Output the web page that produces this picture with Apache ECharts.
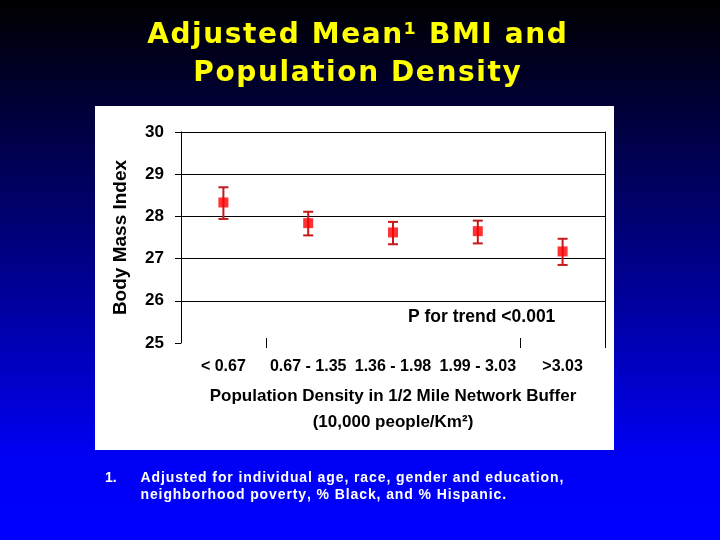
<!DOCTYPE html>
<html>
<head>
<meta charset="utf-8">
<script src="https://cdn.jsdelivr.net/npm/echarts@6/dist/echarts.min.js"></script>
<style>
  html, body { margin: 0; padding: 0; background: #000; }
  #chart { width: 720px; height: 540px; }
</style>
</head>
<body>
<div id="chart"></div>
<script>
// data
var categories = ['< 0.67', '0.67 - 1.35', '1.36 - 1.98', '1.99 - 3.03', '>3.03'];
var bmiMean = [28.33, 27.84, 27.62, 27.65, 27.17];
var ciLow = [27.94, 27.55, 27.34, 27.36, 26.85];
var ciHigh = [28.69, 28.11, 27.87, 27.90, 27.47];
var yMin = 25, yMax = 30, yStep = 1;

var titleLines = ['Adjusted Mean\u00b9 BMI and', 'Population Density'];
var noteLines = ['Adjusted for individual age, race, gender and education,',
                 'neighborhood poverty, % Black, and % Hispanic.'];

// wrap each character in a rich token so it can get letter spacing
function spaced(str, key) {
    return str.split('').map(function (c) { return '{' + key + '|' + c + '}'; }).join('');
}

var myChart = echarts.init(document.getElementById('chart'));

var titleRich = {
    t: { fontFamily: 'DejaVu Sans', fontWeight: 'bold', fontSize: 28, fill: '#FFFF00', padding: [0, 0.8, 0, 0.8] }
};
var noteRich = {
    n: { fontFamily: 'Liberation Sans', fontWeight: 'bold', fontSize: 14, fill: '#FFFFFF', padding: [0, 0.45, 0, 0.45] }
};

var option = {
    animation: false,
    graphic: [
        {
            type: 'rect', z: -20, silent: true,
            shape: { x: 0, y: 0, width: 720, height: 540 },
            style: {
                fill: new echarts.graphic.LinearGradient(0, 0, 0, 1, [
                    { offset: 0, color: '#000000' },
                    { offset: 0.5, color: '#00008C' },
                    { offset: 0.85, color: '#0000F5' },
                    { offset: 1, color: '#0000FF' }
                ])
            }
        },
        {
            type: 'rect', z: -10, silent: true,
            shape: { x: 95, y: 106, width: 519, height: 344 },
            style: { fill: '#FFFFFF' }
        },
        {
            type: 'text', x: 357, y: 36,
            style: { text: spaced(titleLines[0], 't'), rich: titleRich, align: 'center', verticalAlign: 'middle',
                     fontFamily: 'DejaVu Sans', fontWeight: 'bold', fontSize: 28, fill: '#FFFF00' }
        },
        {
            type: 'text', x: 357, y: 74,
            style: { text: spaced(titleLines[1], 't'), rich: titleRich, align: 'center', verticalAlign: 'middle',
                     fontFamily: 'DejaVu Sans', fontWeight: 'bold', fontSize: 28, fill: '#FFFF00' }
        },
        {
            type: 'text', x: 408, y: 317,
            style: { text: 'P for trend <0.001', verticalAlign: 'middle',
                     fontFamily: 'Liberation Sans', fontWeight: 'bold', fontSize: 17.5, fill: '#000000' }
        },
        {
            type: 'text', x: 105, y: 478,
            style: { text: '1.', verticalAlign: 'middle',
                     fontFamily: 'Liberation Sans', fontWeight: 'bold', fontSize: 14, fill: '#FFFFFF' }
        },
        {
            type: 'text', x: 140, y: 478,
            style: { text: spaced(noteLines[0], 'n'), rich: noteRich, verticalAlign: 'middle',
                     fontFamily: 'Liberation Sans', fontWeight: 'bold', fontSize: 14, fill: '#FFFFFF' }
        },
        {
            type: 'text', x: 140, y: 495,
            style: { text: spaced(noteLines[1], 'n'), rich: noteRich, verticalAlign: 'middle',
                     fontFamily: 'Liberation Sans', fontWeight: 'bold', fontSize: 14, fill: '#FFFFFF' }
        }
    ],
    grid: { left: 181, right: 115, top: 132, bottom: 197 },
    xAxis: {
        type: 'category',
        data: categories,
        boundaryGap: true,
        offset: 5,
        axisLine: { show: false },
        axisTick: {
            show: true, inside: true, length: 10,
            interval: function (index) { return index === 1 || index === 4; },
            lineStyle: { color: '#000', width: 1 }
        },
        axisLabel: { interval: 0, hideOverlap: false, color: '#000', fontFamily: 'Liberation Sans', fontWeight: 'bold', fontSize: 16, margin: 11 },
        splitLine: { show: false },
        name: '{a|Population Density in 1/2 Mile Network Buffer}\n{a|(10,000 people/Km\u00b2)}',
        nameLocation: 'middle',
        nameGap: 35,
        nameTextStyle: {
            rich: { a: { color: '#000', fontFamily: 'Liberation Sans', fontWeight: 'bold', fontSize: 17, lineHeight: 26 } }
        }
    },
    yAxis: [
        {
            type: 'value',
            min: yMin, max: yMax, interval: yStep,
            axisLine: { show: true, lineStyle: { color: '#000', width: 1 } },
            axisTick: { show: true, length: 6, lineStyle: { color: '#000' } },
            axisLabel: { color: '#000', fontFamily: 'Liberation Sans', fontWeight: 'bold', fontSize: 17, margin: 17 },
            splitLine: { show: true, lineStyle: { color: ['rgba(0,0,0,0)', '#000', '#000', '#000', '#000', '#000'], width: 1 } },
            name: 'Body Mass Index',
            nameLocation: 'middle',
            nameGap: 51,
            nameTextStyle: { color: '#000', fontFamily: 'Liberation Sans', fontWeight: 'bold', fontSize: 19 }
        },
        {
            type: 'value',
            position: 'right',
            min: yMin, max: yMax, interval: yStep,
            axisLine: { show: true, lineStyle: { color: '#000', width: 1 } },
            axisTick: { show: false },
            axisLabel: { show: false },
            splitLine: { show: false }
        }
    ],
    series: [
        {
            name: 'CI',
            type: 'custom',
            data: categories.map(function (c, i) { return [i, ciLow[i], ciHigh[i]]; }),
            renderItem: function (params, api) {
                var lo = api.coord([api.value(0), api.value(1)]);
                var hi = api.coord([api.value(0), api.value(2)]);
                var cap = 5;
                var st = { stroke: '#C41A1A', lineWidth: 2 };
                return {
                    type: 'group',
                    children: [
                        { type: 'line', shape: { x1: hi[0], y1: hi[1], x2: lo[0], y2: lo[1] }, style: st },
                        { type: 'line', shape: { x1: hi[0] - cap, y1: hi[1], x2: hi[0] + cap, y2: hi[1] }, style: st },
                        { type: 'line', shape: { x1: lo[0] - cap, y1: lo[1], x2: lo[0] + cap, y2: lo[1] }, style: st }
                    ]
                };
            },
            z: 2
        },
        {
            name: 'Adjusted mean BMI',
            type: 'scatter',
            data: bmiMean,
            symbol: 'rect',
            symbolSize: 10,
            itemStyle: { color: '#FF0000' },
            z: 3
        }
    ]
};

myChart.setOption(option);
</script>
</body>
</html>
